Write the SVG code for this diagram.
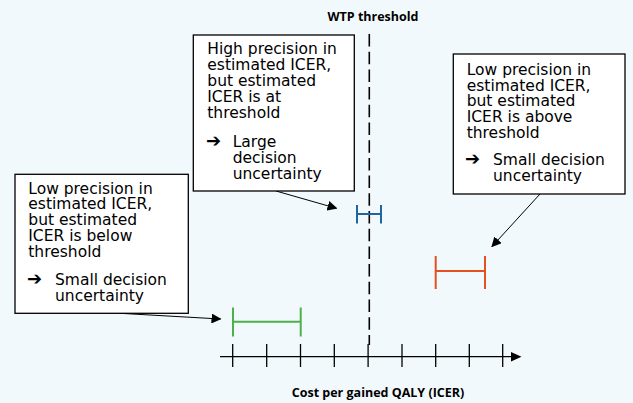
<svg xmlns="http://www.w3.org/2000/svg" width="633" height="403" viewBox="0 0 633 403">
  <defs>
    <marker id="arrow" viewBox="0 0 10 10" refX="9" refY="5" markerWidth="10" markerHeight="10" markerUnits="userSpaceOnUse" orient="auto">
      <path d="M0,0 L10,5 L0,10 Z" fill="#000"/>
    </marker>
    <style>
      .box { fill: #fff; stroke: #000; stroke-width: 1.3; }
      .txt { font-family: "DejaVu Sans", "Liberation Sans", sans-serif; font-size: 15.5px; fill: #000; }
      .sym { font-family: "DejaVu Sans", sans-serif; font-size: 18px; font-weight: bold; fill: #000; }
      .lbl { font-family: "Open Sans", "Liberation Sans", sans-serif; font-size: 12.5px; font-weight: bold; fill: #000; }
      .conn { stroke: #000; stroke-width: 1; fill: none; }
      .tick { stroke: #000; stroke-width: 1.3; }
      .bar { stroke-width: 2; fill: none; }
    </style>
  </defs>
  <rect width="633" height="403" fill="#F2F9FC"/>

  <!-- threshold line and axis -->
  <g id="threshold">
    <line x1="369.3" y1="34" x2="369.3" y2="345" stroke="#000" stroke-width="1.6" stroke-dasharray="12.5 5.2"/>
    <text class="lbl" x="373" y="21" text-anchor="middle">WTP threshold</text>
  </g>
  <g id="axis">
    <line x1="220" y1="356.7" x2="512" y2="356.7" stroke="#000" stroke-width="1.3"/>
    <path d="M511,352 L521.5,356.7 L511,361.4 Z" fill="#000"/>
    <g class="tick">
      <line x1="232.7" y1="344" x2="232.7" y2="367"/>
      <line x1="266.7" y1="344" x2="266.7" y2="367"/>
      <line x1="300.5" y1="344" x2="300.5" y2="367"/>
      <line x1="334.3" y1="344" x2="334.3" y2="367"/>
      <line x1="368.1" y1="344" x2="368.1" y2="367"/>
      <line x1="402" y1="344" x2="402" y2="367"/>
      <line x1="435.7" y1="344" x2="435.7" y2="367"/>
      <line x1="469.3" y1="344" x2="469.3" y2="367"/>
      <line x1="502.7" y1="344" x2="502.7" y2="367"/>
    </g>
    <text class="lbl" x="378" y="397" text-anchor="middle">Cost per gained QALY (ICER)</text>
  </g>

  <!-- interval bars -->
  <g id="bar-blue" class="bar" stroke="#1F66A0">
    <line x1="357" y1="214" x2="381" y2="214"/>
    <line x1="357" y1="205" x2="357" y2="223.5"/>
    <line x1="381" y1="205" x2="381" y2="223.5"/>
  </g>
  <g id="bar-orange" class="bar" stroke="#E4511F">
    <line x1="435.7" y1="271" x2="485" y2="271"/>
    <line x1="435.7" y1="256" x2="435.7" y2="289"/>
    <line x1="485" y1="256" x2="485" y2="289"/>
  </g>
  <g id="bar-green" class="bar" stroke="#4DB14A">
    <line x1="233" y1="321.7" x2="300.7" y2="321.7"/>
    <line x1="233" y1="307.5" x2="233" y2="336.5"/>
    <line x1="300.7" y1="307.5" x2="300.7" y2="336.5"/>
  </g>

  <!-- connectors -->
  <g id="connectors">
    <line class="conn" x1="276" y1="191" x2="336.5" y2="208.3" marker-end="url(#arrow)"/>
    <line class="conn" x1="540" y1="194" x2="492" y2="246.5" marker-end="url(#arrow)"/>
    <line class="conn" x1="120" y1="313.3" x2="220.5" y2="319" marker-end="url(#arrow)"/>
  </g>

  <!-- callout boxes -->
  <g id="box-high">
    <rect class="box" x="193.3" y="35" width="161" height="156"/>
    <text class="txt">
      <tspan x="207.3" y="54">High precision in</tspan>
      <tspan x="207.3" y="70">estimated ICER,</tspan>
      <tspan x="207.3" y="85.5">but estimated</tspan>
      <tspan x="207.3" y="101.5">ICER is at</tspan>
      <tspan x="207.3" y="117.5">threshold</tspan>
    </text>
    <text class="sym" x="206" y="147">➔</text>
    <text class="txt">
      <tspan x="232.7" y="147">Large</tspan>
      <tspan x="232.7" y="163">decision</tspan>
      <tspan x="232.7" y="178.5">uncertainty</tspan>
    </text>
  </g>

  <g id="box-above">
    <rect class="box" x="453.3" y="54" width="171.7" height="140"/>
    <text class="txt">
      <tspan x="466.7" y="75">Low precision in</tspan>
      <tspan x="466.7" y="90.5">estimated  ICER,</tspan>
      <tspan x="466.7" y="106">but estimated</tspan>
      <tspan x="466.7" y="122">ICER is above</tspan>
      <tspan x="466.7" y="137.5">threshold</tspan>
    </text>
    <text class="sym" x="465" y="165">➔</text>
    <text class="txt">
      <tspan x="493" y="165">Small decision</tspan>
      <tspan x="493" y="180.5">uncertainty</tspan>
    </text>
  </g>

  <g id="box-below">
    <rect class="box" x="15" y="174.3" width="173.3" height="139"/>
    <text class="txt">
      <tspan x="28.3" y="193.5">Low precision in</tspan>
      <tspan x="28.3" y="209">estimated ICER,</tspan>
      <tspan x="28.3" y="225">but estimated</tspan>
      <tspan x="28.3" y="240.5">ICER is below</tspan>
      <tspan x="28.3" y="256.5">threshold</tspan>
    </text>
    <text class="sym" x="27" y="285">➔</text>
    <text class="txt">
      <tspan x="55" y="285">Small decision</tspan>
      <tspan x="55" y="300.5">uncertainty</tspan>
    </text>
  </g>
</svg>
